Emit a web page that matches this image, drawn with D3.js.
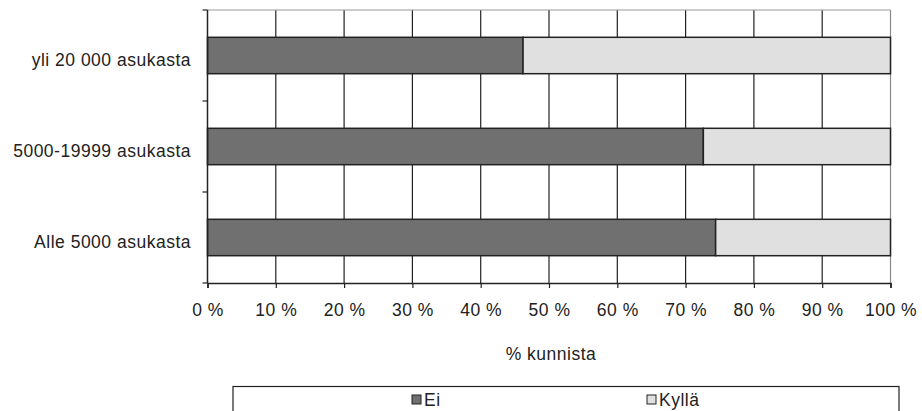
<!DOCTYPE html>
<html>
<head>
<meta charset="utf-8">
<script src="https://cdn.jsdelivr.net/npm/d3@7"></script>
<style>
  html, body { margin: 0; padding: 0; background: #fff; }
  svg { display: block; font-family: "Liberation Sans", Arial, sans-serif; }
  text { letter-spacing: 0.5px; }
</style>
</head>
<body>
<svg id="chart" width="922" height="411"></svg>
<script>
// Kuntakoko-ryhmät ylhäältä alas
const categories = ["yli 20 000 asukasta", "5000-19999 asukasta", "Alle 5000 asukasta"];
const seriesNames = ["Ei", "Kyllä"];
const eiValues = [46.2, 72.6, 74.4];
const kyllaValues = [53.8, 27.4, 25.6];
const xTicks = [0, 10, 20, 30, 40, 50, 60, 70, 80, 90, 100];
const colors = ["#707070", "#e0e0e0"];

const FS = 17.5;
const svg = d3.select("#chart");
const margin = { left: 207.5, right: 31.5, top: 10, bottom: 128 };
const W = 922, H = 411;
const x = d3.scaleLinear().domain([0, 100]).range([margin.left, W - margin.right]);
const y = d3.scaleBand().domain(categories).range([margin.top, H - margin.bottom]).paddingInner(0.6).paddingOuter(0.3);

const rows = categories.map((c, i) => ({ cat: c, vals: [eiValues[i], kyllaValues[i]] }));

// Pystysuorat ruudukkoviivat
svg.append("g").selectAll("line").data(xTicks.slice(1)).join("line")
  .attr("x1", d => x(d)).attr("x2", d => x(d))
  .attr("y1", margin.top).attr("y2", H - margin.bottom)
  .attr("stroke", d => d === 100 ? "#888" : "#222").attr("stroke-width", 1.2);

// Yläreuna
svg.append("line")
  .attr("x1", x(0)).attr("x2", x(100))
  .attr("y1", margin.top).attr("y2", margin.top)
  .attr("stroke", "#999").attr("stroke-width", 1);

// Pinotut palkit
const stack = d3.stack().keys([0, 1]).value((d, k) => d.vals[k]);
const stacked = stack(rows);
svg.append("g").selectAll("g").data(stacked).join("g")
  .attr("fill", (d, i) => colors[i])
  .selectAll("rect").data(d => d).join("rect")
  .attr("x", d => x(d[0]))
  .attr("width", d => x(d[1]) - x(d[0]))
  .attr("y", d => y(d.data.cat))
  .attr("height", y.bandwidth())
  .attr("stroke", "#222").attr("stroke-width", 1.5);

// X-akseli
const xAxis = svg.append("g")
  .attr("transform", `translate(0,${H - margin.bottom})`)
  .call(d3.axisBottom(x).tickValues(xTicks).tickFormat(d => d + " %").tickSize(5).tickPadding(16));
xAxis.select(".domain").attr("stroke", "#222").attr("stroke-width", 1.5);
xAxis.selectAll(".tick line").attr("stroke", "#222").attr("stroke-width", 1.2);
xAxis.selectAll("text").attr("font-size", FS).attr("fill", "#222")
  .attr("font-family", "'Liberation Sans', Arial, sans-serif");

// Y-akseli: jakoviivat ryhmien rajoilla
const yEdges = d3.range(categories.length + 1).map(i => margin.top + i * (H - margin.bottom - margin.top) / categories.length);
svg.append("line")
  .attr("x1", x(0)).attr("x2", x(0))
  .attr("y1", margin.top).attr("y2", H - margin.bottom)
  .attr("stroke", "#222").attr("stroke-width", 1.5);
svg.append("g").selectAll("line").data(yEdges).join("line")
  .attr("x1", x(0) - 5).attr("x2", x(0))
  .attr("y1", d => d).attr("y2", d => d)
  .attr("stroke", "#222").attr("stroke-width", 1.2);

svg.append("g").selectAll("text").data(categories).join("text")
  .attr("x", 191)
  .attr("y", d => y(d) + y.bandwidth() / 2 + 4)
  .attr("dy", "0.35em")
  .attr("text-anchor", "end")
  .attr("font-size", FS).attr("fill", "#222")
  .text(d => d);

// Akselin otsikko
svg.append("text")
  .attr("x", (x(0) + x(100)) / 2 + 2).attr("y", 354)
  .attr("dy", "0.35em")
  .attr("text-anchor", "middle")
  .attr("font-size", FS).attr("fill", "#222")
  .text("% kunnista");

// Selite
svg.append("rect")
  .attr("x", 233).attr("y", 386.5).attr("width", 666).attr("height", 40)
  .attr("fill", "none").attr("stroke", "#222").attr("stroke-width", 1.2);
const legendX = [412, 647];
const lg = svg.append("g").selectAll("g").data(seriesNames).join("g")
  .attr("transform", (d, i) => `translate(${legendX[i]},395)`);
lg.append("rect").attr("width", 9).attr("height", 9)
  .attr("fill", (d, i) => colors[i]).attr("stroke", "#222").attr("stroke-width", 1);
lg.append("text").attr("x", 12).attr("y", 5).attr("dy", "0.36em")
  .attr("font-size", FS).attr("fill", "#222").text(d => d);
</script>
</body>
</html>
